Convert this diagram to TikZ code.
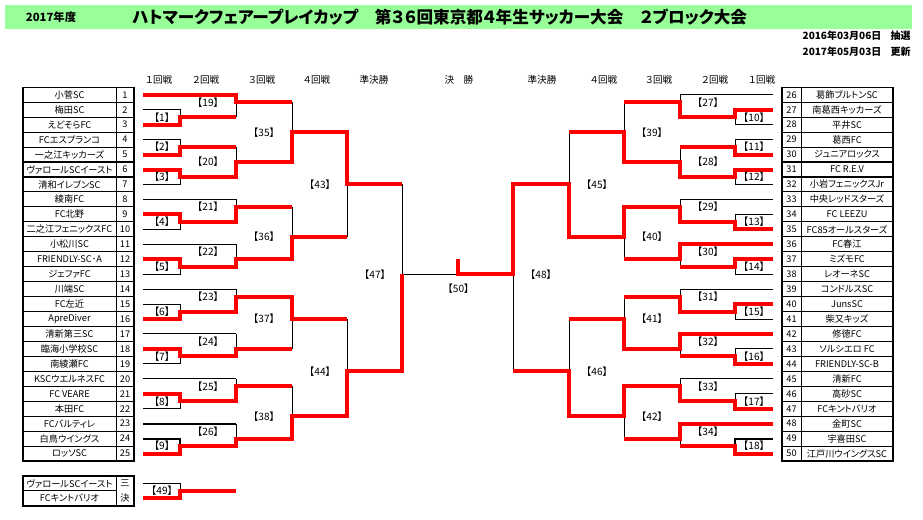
\documentclass[tikz,border=0pt]{standalone}
\usepackage{fontspec}
\setmainfont{Noto Sans CJK JP}[RawFeature=+palt]
\definecolor{band}{HTML}{99FF99}

\tikzset{
  skel/.style={black, line width=0.75pt},
  win/.style={red, line width=3pt},
  tabline/.style={black, line width=0.75pt},
  teamname/.style={inner sep=0pt, font=\fontsize{6.9}{8}\selectfont},
  matchno/.style={inner sep=0pt, font=\fontsize{7.6}{9}\selectfont},
  roundhead/.style={inner sep=0pt, font=\fontsize{7.2}{8}\selectfont},
}

\begin{document}
\begin{tikzpicture}[x=0.75pt,y=0.75pt,yscale=-1,xscale=1]
\useasboundingbox (0,0) rectangle (923,519);

% header
\fill[band] (5,5) rectangle (912,29);
\node[inner sep=0pt, font=\bfseries\fontsize{8.5}{10}\selectfont] (year) at (51,17) {2017年度};
\node[anchor=west, inner sep=0pt, font=\bfseries\fontsize{12}{14}\selectfont] (title) at (132,17)
  {\resizebox{461pt}{!}{ハトマークフェアープレイカップ　第３６回東京都４年生サッカー大会　２ブロック大会}};
\node[anchor=east, inner sep=0pt, font=\bfseries\fontsize{7.5}{9}\selectfont] (drawn) at (911,36) {2016年03月06日\hspace{7pt}抽選};
\node[anchor=east, inner sep=0pt, font=\bfseries\fontsize{7.5}{9}\selectfont] (upd) at (911,52) {2017年05月03日\hspace{7pt}更新};

% round heads
\foreach \t/\x [count=\i] in {１回戦/159, ２回戦/206, ３回戦/262, ４回戦/317, 準決勝/374,
    決\hspace{7pt}勝/459, 準決勝/542, ４回戦/604, ３回戦/659, ２回戦/715, １回戦/762}
  \node[roundhead] (h\i) at (\x,80) {\t};

\begin{scope}[shift={(0,87.3)}, y=5.60625pt]
% team tables
\draw[tabline, line width=1.1pt] (23,0) rectangle (134,50);
\draw[tabline] (116,0) -- (116,50);
\foreach \k in {2,4,...,48} \draw[tabline] (23,\k) -- (134,\k);
\draw[tabline, line width=2pt] (23,10) -- (134,10) (23,12) -- (134,12);
\draw[tabline, line width=1.1pt] (782,0) rectangle (893,50);
\draw[tabline] (801,0) -- (801,50);
\foreach \k in {2,4,...,48} \draw[tabline] (782,\k) -- (893,\k);
\draw[tabline, line width=2pt] (782,10) -- (893,10) (782,12) -- (893,12);

\foreach \n [count=\i] in {小菅SC, 梅田SC, えどそらFC, FCエスプランコ, 一之江キッカーズ,
    ヴァロールSCイースト, 清和イレブンSC, 綾南FC, FC北野, 二之江フェニックスFC,
    小松川SC, FRIENDLY-SC･A, ジェファFC, 川端SC, FC左近, ApreDiver, 清新第三SC,
    臨海小学校SC, 南綾瀬FC, KSCウエルネスFC, FC VEARE, 本田FC, FCバルティレ,
    白鳥ウイングス, ロッソSC}
{
  \node[teamname] (t\i) at (69.5,{2*\i-1}) {\n};
  \node[teamname] (n\i) at (125,{2*\i-1}) {\i};
}
\foreach \n [count=\i from 26] in {葛飾ブルトンSC, 南葛西キッカーズ, 平井SC, 葛西FC,
    ジュニアロックス, FC R.E.V, 小岩フェニックスJr, 中央レッドスターズ, FC LEEZU,
    FC85オールスターズ, FC春江, ミズモFC, レオーネSC, コンドルスSC, JunsSC, 柴又キッズ,
    修徳FC, ソルシエロ FC, FRIENDLY-SC-B, 清新FC, 高砂SC, FCキントバリオ, 金町SC,
    宇喜田SC, 江戸川ウイングスSC}
{
  \node[teamname] (t\i) at (847,{2*(\i-25)-1}) {\n};
  \node[teamname] (n\i) at (791.5,{2*(\i-25)-1}) {\i};
}

% third place table
\draw[tabline, line width=1.1pt] (23,52) rectangle (134,56);
\draw[tabline] (116,52) -- (116,56) (23,54) -- (116,54);
\node[teamname] (p1) at (69.5,53) {ヴァロールSCイースト};
\node[teamname] (p2) at (69.5,55) {FCキントバリオ};
\node[teamname] (p3) at (125,53) {三};
\node[teamname] (p4) at (125,55) {決};

% bracket skeleton, both halves
\foreach \xa/\xb/\xc/\xd/\xe/\xf in {143/180/236/292/347/402, 773/735/680/624/569/513}
{
  \foreach \r in {1,8,11,14,17,20,23}
    \draw[skel] (\xa,{2*\r-1}) -- (\xc,{2*\r-1});
  \foreach \p in {2,4,6,9,12,15,18,21,24}
    \draw[skel] (\xa,{2*\p-1}) -- (\xb,{2*\p-1}) -- (\xb,{2*\p+1}) -- (\xa,{2*\p+1})
                (\xb,{2*\p}) -- (\xc,{2*\p});
  \foreach \t/\b/\o in {1/4/2, 8/12/10, 15/18/16, 21/24/23, 27/30/28, 33/36/35, 39/42/40, 45/48/47}
    \draw[skel] (\xc,\t) -- (\xc,\b) (\xc,\o) -- (\xd,\o);
  \foreach \t/\b/\o in {2/10/6, 16/23/20, 28/35/31, 40/47/44}
    \draw[skel] (\xd,\t) -- (\xd,\b) (\xd,\o) -- (\xe,\o);
  \foreach \t/\b/\o in {6/20/13, 31/44/38}
    \draw[skel] (\xe,\t) -- (\xe,\b) (\xe,\o) -- (\xf,\o);
  \draw[skel] (\xf,13) -- (\xf,38);
}
\draw[skel] (402,25) -- (513,25);
\draw[skel] (143,53) -- (180,53) -- (180,55) -- (143,55) (180,54) -- (236,54);
% heavier black strokes
\draw[skel, line width=1.5pt] (143,45) -- (236,45) (143,47) -- (180,47) -- (180,48);
\draw[skel, line width=1.5pt] (773,47) -- (735,47) -- (735,48);

% winners, left half
\draw[win] (143,1) -- (236,1) -- (236,2) -- (292,2);
\draw[win] (143,5) -- (180,5) -- (180,4) -- (236,4);
\draw[win] (143,9) -- (180,9) -- (180,8) -- (236,8);
\draw[win] (143,11) -- (180,11) -- (180,12) -- (236,12) -- (236,10) -- (292,10) -- (292,6) -- (347,6) -- (347,13) -- (402,13);
\draw[win] (143,17) -- (180,17) -- (180,18) -- (236,18) -- (236,16) -- (292,16);
\draw[win] (143,23) -- (180,23) -- (180,24) -- (236,24) -- (236,23) -- (292,23) -- (292,20) -- (347,20);
\draw[win] (143,31) -- (180,31) -- (180,30) -- (236,30) -- (236,28) -- (292,28) -- (292,31) -- (347,31);
\draw[win] (143,35) -- (180,35) -- (180,36) -- (236,36) -- (236,35) -- (292,35);
\draw[win] (143,41) -- (180,41) -- (180,42) -- (236,42) -- (236,40) -- (292,40);
\draw[win] (143,49) -- (180,49) -- (180,48) -- (236,48) -- (236,47) -- (292,47) -- (292,44) -- (347,44) -- (347,38) -- (402,38) -- (402,25);
\draw[win] (143,55) -- (180,55) -- (180,54) -- (236,54);

% winners, right half
\draw[win] (773,3) -- (735,3) -- (735,4) -- (680,4) -- (680,2) -- (624,2);
\draw[win] (773,9) -- (735,9) -- (735,8) -- (680,8);
\draw[win] (773,11) -- (735,11) -- (735,12) -- (680,12) -- (680,10) -- (624,10) -- (624,6) -- (569,6);
\draw[win] (773,19) -- (735,19) -- (735,18) -- (680,18) -- (680,16) -- (624,16) -- (624,20) -- (569,20) -- (569,13) -- (513,13) -- (513,25) -- (458,25) -- (458,23);
\draw[win] (773,21) -- (680,21) -- (680,23) -- (624,23);
\draw[win] (773,23) -- (735,23) -- (735,24) -- (680,24);
\draw[win] (773,29) -- (735,29) -- (735,30) -- (680,30) -- (680,28) -- (624,28);
\draw[win] (773,33) -- (680,33) -- (680,35) -- (624,35) -- (624,31) -- (569,31);
\draw[win] (773,37) -- (735,37) -- (735,36) -- (680,36);
\draw[win] (773,43) -- (735,43) -- (735,42) -- (680,42) -- (680,40) -- (624,40) -- (624,44) -- (569,44) -- (569,38) -- (513,38);
\draw[win] (773,45) -- (680,45) -- (680,47) -- (624,47);
\draw[win] (773,49) -- (735,49) -- (735,48) -- (680,48);

% match numbers
\foreach \n/\x/\k in {1/162/4, 2/162/8, 3/162/12, 4/162/18, 5/162/24, 6/162/30, 7/162/36, 8/162/42, 9/162/48,
    10/754/4, 11/754/8, 12/754/12, 13/754/18, 14/754/24, 15/754/30, 16/754/36, 17/754/42, 18/754/48,
    19/208/2, 20/208/10, 21/208/16, 22/208/22, 23/208/28, 24/208/34, 25/208/40, 26/208/46,
    27/708/2, 28/708/10, 29/708/16, 30/708/22, 31/708/28, 32/708/34, 33/708/40, 34/708/46,
    35/264/6, 36/264/20, 37/264/31, 38/264/44, 39/652/6, 40/652/20, 41/652/31, 42/652/44,
    43/320/13, 44/320/38, 45/597/13, 46/597/38, 47/375/25, 48/541/25, 50/458.5/27, 49/162/54}
  \node[matchno] (m\n) at (\x,\k) {【\n】};
\end{scope}
\end{tikzpicture}
\end{document}
